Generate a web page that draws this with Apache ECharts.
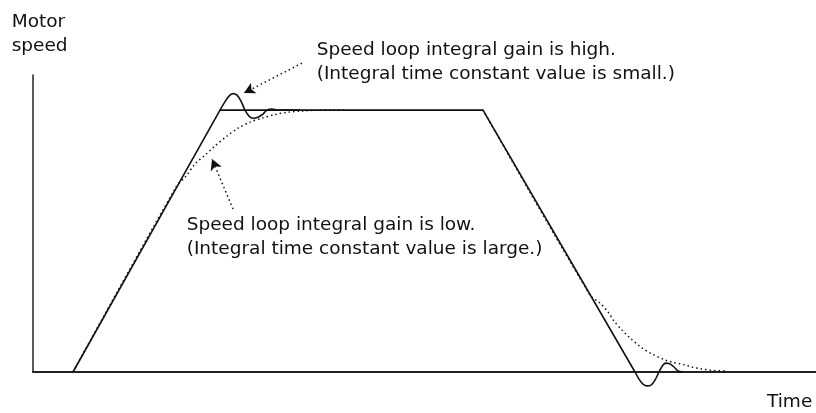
<!DOCTYPE html>
<html>
<head>
<meta charset="utf-8">
<script src="https://cdn.jsdelivr.net/npm/echarts@6/dist/echarts.min.js"></script>
<style>
html,body{margin:0;padding:0;background:#fff;}
#c{width:816px;height:413px;}
</style>
</head>
<body>
<div id="c"></div>
<script>
// Time axis (arbitrary units) and motor speed (% of commanded speed)
var timeMax = 78.3;
var speedMax = 113.4;
var speedMaxAnno = 142.0; // same scale, extended up to the top of the page for annotations

// Commanded speed profile (trapezoid)
var commandTime  = [4.0, 18.7, 45.0, 60.2];
var commandSpeed = [0, 100, 100, 0];

// High integral gain response: overshoot at top
var highTopTime  = [18.7, 19.3, 19.7, 20.0, 20.4, 20.8, 21.2, 21.6, 22.0, 22.5, 23.0, 23.4, 23.9, 24.5, 26.7];
var highTopSpeed = [100, 103.8, 105.7, 106.3, 105.7, 103.4, 100, 97.7, 96.9, 97.3, 98.5, 100, 100.4, 100, 100];

// High integral gain response: undershoot at bottom
var highBotTime  = [60.2, 60.6, 61.0, 61.4, 61.8, 62.2, 62.6, 63.0, 63.3, 63.7, 64.1, 64.5, 65.0];
var highBotSpeed = [0, -2.7, -4.6, -5.3, -5.0, -3.1, 0, 2.7, 3.4, 3.1, 1.9, 0.4, 0];

// Low integral gain response (slow approach)
var lowTopTime  = [4.0, 14.3, 15.3, 16.2, 17.2, 18.2, 19.4, 20.5, 21.7, 22.9, 24.2, 25.5, 26.7, 28.7, 31.2];
var lowTopSpeed = [0, 70.6, 74.8, 79.4, 82.8, 86.3, 90.1, 93.1, 95.4, 96.9, 98.3, 99.2, 99.6, 100, 100];
var lowBotTime  = [45.0, 55.7, 56.7, 57.5, 58.1, 58.9, 59.7, 60.9, 61.9, 63.2, 63.9, 65.2, 65.9, 66.7, 67.9, 69.2];
var lowBotSpeed = [100, 29.4, 26.3, 22.9, 19.5, 16.0, 13.0, 9.2, 6.9, 4.6, 3.8, 2.7, 1.9, 1.3, 0.6, 0.4];

// Annotation arrows: [start, end] in (time, speed)
var arrowHigh = [[26.9, 117.9], [21.1, 106.5]];
var arrowLow  = [[20.0, 62.2], [17.9, 81.3]];

// Texts
var yTitle = ['Motor', 'speed'];
var xTitle = 'Time';
var noteHigh = ['Speed loop integral gain is high.', '(Integral time constant value is small.)'];
var noteLow  = ['Speed loop integral gain is low.', '(Integral time constant value is large.)'];

function zip(a, b) { return a.map(function (v, i) { return [v, b[i]]; }); }

var FONT = 'DejaVu Sans';
var FS = 18.5;
function txt(x, y, s) {
  return { type: 'text', left: x, top: y, style: { text: s, fontFamily: FONT, fontSize: FS, fill: '#111', verticalAlign: 'top' } };
}

var solid = { color: '#111', width: 1.6 };
var dotted = { color: '#111', width: 1.5, type: [1.5, 3] };
var hidden = { axisLine: { show: false }, axisTick: { show: false }, axisLabel: { show: false }, splitLine: { show: false } };

var chart = echarts.init(document.getElementById('c'), null, { renderer: 'canvas' });
chart.setOption({
  animation: false,
  backgroundColor: '#fff',
  grid: [
    { left: 33, right: 0, top: 75, bottom: 41 },
    { left: 33, right: 0, top: 0, bottom: 41 }
  ],
  xAxis: [{
    type: 'value', min: 0, max: timeMax, gridIndex: 0,
    axisLine: { show: true, onZero: false, lineStyle: { color: '#222', width: 2 } },
    axisTick: { show: false }, axisLabel: { show: false }, splitLine: { show: false }
  }, Object.assign({ type: 'value', min: 0, max: timeMax, gridIndex: 1 }, hidden)],
  yAxis: [{
    type: 'value', min: 0, max: speedMax, gridIndex: 0,
    axisLine: { show: true, lineStyle: { color: '#222', width: 1.5 } },
    axisTick: { show: false }, axisLabel: { show: false }, splitLine: { show: false }
  }, Object.assign({ type: 'value', min: 0, max: speedMaxAnno, gridIndex: 1 }, hidden)],
  series: [
    { type: 'line', data: zip(commandTime, commandSpeed), symbol: 'none', lineStyle: solid, clip: false },
    { type: 'line', data: zip(highTopTime, highTopSpeed), symbol: 'none', smooth: 0.3, lineStyle: solid, clip: false },
    { type: 'line', data: zip(highBotTime, highBotSpeed), symbol: 'none', smooth: 0.3, lineStyle: solid, clip: false },
    { type: 'line', data: zip(lowTopTime, lowTopSpeed), symbol: 'none', smooth: 0.3, lineStyle: dotted, clip: false },
    { type: 'line', data: zip(lowBotTime, lowBotSpeed), symbol: 'none', smooth: 0.3, lineStyle: dotted, clip: false },
    { type: 'line', xAxisIndex: 1, yAxisIndex: 1, data: [], symbol: 'none', clip: false,
      markLine: {
        silent: true, animation: false, label: { show: false },
        symbol: ['none', 'arrow'], symbolSize: [9, 11],
        lineStyle: { color: '#111', width: 1.5, type: [1.5, 3] },
        data: [
          [{ coord: arrowHigh[0] }, { coord: arrowHigh[1] }],
          [{ coord: arrowLow[0] }, { coord: arrowLow[1] }]
        ]
      }
    }
  ],
  graphic: [
    txt(11.7, 13, yTitle[0]),
    txt(11.7, 37, yTitle[1]),
    txt(316.7, 41, noteHigh[0]),
    txt(316.7, 64.5, noteHigh[1]),
    txt(186.7, 216, noteLow[0]),
    txt(186.7, 240, noteLow[1]),
    txt(767, 393, xTitle)
  ]
});
</script>
</body>
</html>
